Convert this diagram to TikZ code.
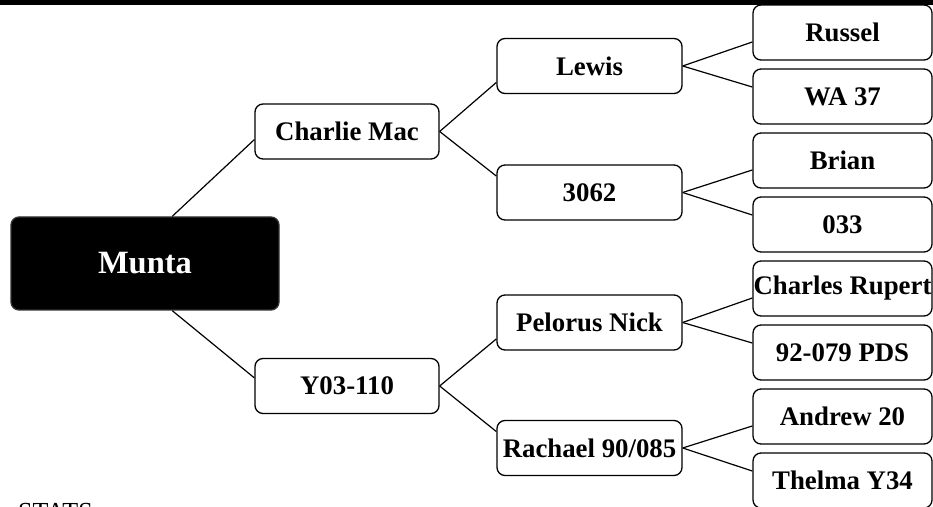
\documentclass[tikz,border=0pt]{standalone}
\usepackage{fontspec}
\setmainfont{Liberation Serif}

\begin{document}
\begin{tikzpicture}[x=1pt,y=1pt,
    box/.style={draw, line width=1.3pt, rounded corners=8pt, inner sep=0pt,
      minimum width=185pt, minimum height=55pt,
      font=\fontsize{26.8}{30}\selectfont\bfseries},
    leaf/.style={box, minimum width=179pt},
    link/.style={line width=1.2pt}]
  % Canvas (page edges cut the outer boxes)
  \useasboundingbox (0,0) rectangle (933,506);
  \clip (0,0) rectangle (933,506);
  \fill (0,501) rectangle (933,506);

  % Constants
  \def\midX{347}
  \def\subX{589.5}
  \def\leafX{842.5}
  \def\leafTop{473.5}
  \def\leafGap{64}

  % Root
  \node[box, fill=black, draw=black!80, text=white, minimum width=268pt,
    minimum height=93pt, font=\fontsize{32.5}{36}\selectfont\bfseries]
    (munta) at (145,242.5) {Munta};

  % First level
  \node[box, minimum width=184pt] (charlie) at (\midX,374.5) {Charlie Mac};
  \node[box, minimum width=184pt] (y03) at (\midX,120) {Y03-110};

  % Second level
  \node[box] (lewis) at (\subX,440) {Lewis};
  \node[box] (n3062) at (\subX,313.5) {3062};
  \node[box] (pelorus) at (\subX,183.5) {Pelorus Nick};
  \node[box] (rachael) at (\subX,58) {Rachael 90/085};

  % Leaves: (index/name/label)
  \foreach \i/\name/\lab in {%
    0/russel/Russel,
    1/wa/WA 37,
    2/brian/Brian,
    3/n033/033,
    4/charles/Charles Rupert,
    5/pds/92-079 PDS,
    6/andrew/Andrew 20,
    7/thelma/Thelma Y34%
  } {%
    \node[leaf] (\name) at (\leafX,\leafTop-\i*\leafGap) {\lab};
  }

  % Connectors
  \draw[link] (munta.60) -- (charlie.185);
  \draw[link] (munta.-60) -- (y03.175);
  \foreach \p/\a/\b in {charlie/lewis/n3062, y03/pelorus/rachael} {
    \draw[link] (\p.east) -- (\a.190);
    \draw[link] (\p.east) -- (\b.170);
  }
  \foreach \p/\a/\b in {lewis/russel/wa, n3062/brian/n033,
      pelorus/charles/pds, rachael/andrew/thelma} {
    \draw[link] (\p.east) -- (\a.186);
    \draw[link] (\p.east) -- (\b.174);
  }

  % Caption cut by the lower edge
  \node[anchor=north west, inner sep=0pt, font=\fontsize{26}{30}\selectfont]
    (stats) at (18,3) {STATS};
\end{tikzpicture}
\end{document}
